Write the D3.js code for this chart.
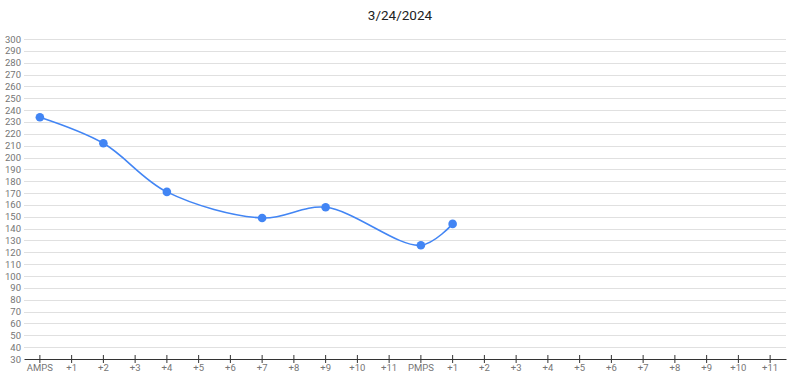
<!DOCTYPE html>
<html>
<head>
<meta charset="utf-8">
<script src="https://cdn.jsdelivr.net/npm/d3@7"></script>
<style>
  body { margin: 0; background: #fff; }
  text { font-family: Roboto, Arial, sans-serif; }
</style>
</head>
<body>
<svg width="800" height="381"></svg>
<script>
var svg = d3.select('svg');

//category labels along the bottom (two shifts)
var categories = ['AMPS','+1','+2','+3','+4','+5','+6','+7','+8','+9','+10','+11',
                  'PMPS','+1','+2','+3','+4','+5','+6','+7','+8','+9','+10','+11'];

//which category slot each reading sits on, and its value
var pointIndex = [0, 2, 4, 7, 9, 12, 13];
var pointValue = [234, 212, 171, 149, 158, 126, 144];

//y tick labels
var yTicks = d3.range(30, 301, 10);

var title = '3/24/2024';

var plotLeft = 24, plotRight = 786, plotTop = 39, plotBottom = 359;

var x = d3.scaleBand()
    .domain(d3.range(categories.length))
    .range([plotLeft, plotRight]);

var y = d3.scaleLinear()
    .domain([30, 300])
    .range([plotBottom, plotTop]);

//gridlines
svg.append('g')
    .selectAll('line')
    .data(yTicks.filter(function(d){ return d > 30; }))
    .enter()
    .append('line')
    .attr('x1', plotLeft)
    .attr('x2', plotRight)
    .attr('y1', function(d){ return Math.round(y(d)) + 0.5; })
    .attr('y2', function(d){ return Math.round(y(d)) + 0.5; })
    .attr('stroke', '#e0e0e0')
    .attr('stroke-width', 1);

//y labels
svg.append('g')
    .selectAll('text')
    .data(yTicks)
    .enter()
    .append('text')
    .attr('x', 21)
    .attr('y', function(d){ return y(d) + 3.5; })
    .attr('text-anchor', 'end')
    .attr('font-size', 9.5)
    .attr('fill', '#757575')
    .text(function(d){ return d; });

//x axis
var xAxis = d3.axisBottom(x)
    .tickSize(0)
    .tickFormat(function(i){ return categories[i]; });

var gx = svg.append('g')
    .attr('transform', 'translate(0,' + plotBottom + ')')
    .call(xAxis);
gx.select('.domain').attr('stroke', '#333').attr('stroke-width', 1.2);
gx.selectAll('.tick line').remove();
gx.selectAll('.tick')
    .append('line')
    .attr('y1', -4)
    .attr('y2', 4)
    .attr('stroke', '#333');
gx.selectAll('.tick text')
    .attr('y', 12)
    .attr('dy', 0)
    .attr('font-size', 9.5)
    .attr('fill', '#757575')
    .attr('font-family', 'Roboto, Arial, sans-serif');

var pts = pointIndex.map(function(idx, i){
    return [x(idx) + x.bandwidth() / 2, y(pointValue[i])];
});

//smoothed line
var line = d3.line().curve(d3.curveCatmullRom.alpha(0.5));
svg.append('path')
    .attr('d', line(pts))
    .attr('fill', 'none')
    .attr('stroke', '#4285f4')
    .attr('stroke-width', 1.6);

svg.selectAll('.dataPoints')
    .data(pts)
    .enter()
    .append('circle')
    .attr('class', 'dataPoints')
    .attr('cx', function(d){ return d[0]; })
    .attr('cy', function(d){ return d[1]; })
    .attr('r', 4.3)
    .attr('fill', '#4285f4');

//title
svg.append('text')
    .attr('x', 400)
    .attr('y', 20)
    .attr('text-anchor', 'middle')
    .attr('font-size', 13.5)
    .attr('fill', '#222')
    .text(title);
</script>
</body>
</html>
